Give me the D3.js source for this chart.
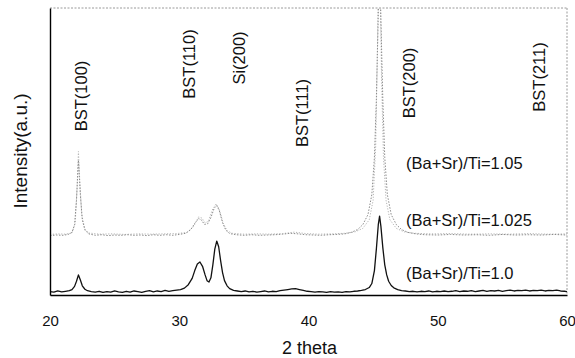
<!DOCTYPE html>
<html>
<head>
<meta charset="utf-8">
<script src="https://cdn.jsdelivr.net/npm/d3@7"></script>
<style>
  body { margin: 0; background: #fff; }
  svg { display: block; }
  text { font-family: "Liberation Sans", Arial, Helvetica, sans-serif; fill: #111; }
</style>
</head>
<body>
<svg id="chart" width="575" height="358"></svg>
<script>
// XRD patterns of BST films, intensity in arbitrary counts vs 2θ (deg)
const xTicks = [20, 30, 40, 50, 60];

// (Ba+Sr)/Ti = 1.0
const ratio100 = [
  [20.0,12],[20.3,10],[20.6,14],[20.9,11],[21.2,13],[21.5,15],[21.7,19],[21.9,30],[22.05,48],[22.2,70],
  [22.35,52],[22.5,32],[22.7,20],[22.9,15],[23.2,12],[23.5,10],[23.8,13],[24.1,9],[24.4,12],[24.7,10],
  [25.0,14],[25.3,11],[25.6,9],[25.9,13],[26.2,10],[26.5,14],[26.8,12],[27.1,9],[27.4,13],[27.7,15],
  [28.0,11],[28.3,14],[28.6,12],[28.9,16],[29.2,13],[29.5,15],[29.8,17],[30.1,19],[30.4,24],[30.7,36],
  [31.0,58],[31.2,85],[31.4,108],[31.6,115],[31.8,100],[32.0,70],[32.15,50],[32.3,45],[32.45,60],[32.6,105],
  [32.75,160],[32.9,188],[33.05,168],[33.2,120],[33.35,78],[33.5,50],[33.7,32],[33.9,22],[34.2,16],[34.5,14],
  [34.8,12],[35.1,14],[35.4,11],[35.7,13],[36.0,10],[36.3,12],[36.6,14],[36.9,11],[37.2,13],[37.5,12],
  [37.8,15],[38.1,17],[38.4,19],[38.7,21],[39.0,22],[39.3,19],[39.6,16],[39.9,13],[40.2,12],[40.5,10],
  [40.8,12],[41.1,11],[41.4,9],[41.7,12],[42.0,10],[42.3,11],[42.6,9],[42.9,12],[43.2,11],[43.5,13],
  [43.8,14],[44.1,16],[44.4,19],[44.7,26],[44.9,40],[45.1,85],[45.25,160],[45.4,245],[45.5,275],[45.6,240],
  [45.75,165],[45.9,105],[46.05,70],[46.2,48],[46.4,33],[46.6,25],[46.9,19],[47.2,15],[47.5,14],[47.8,12],
  [48.1,13],[48.4,11],[48.7,13],[49.0,12],[49.3,14],[49.6,11],[49.9,13],[50.2,12],[50.5,14],[50.8,12],
  [51.1,13],[51.4,15],[51.7,12],[52.0,14],[52.3,13],[52.6,15],[52.9,12],[53.2,14],[53.5,16],[53.8,13],
  [54.1,15],[54.4,14],[54.7,16],[55.0,13],[55.3,15],[55.6,17],[55.9,14],[56.2,16],[56.5,15],[56.8,17],
  [57.1,14],[57.4,16],[57.7,15],[58.0,17],[58.3,14],[58.6,16],[58.9,15],[59.2,17],[59.5,14],[59.8,13],[60.0,12]
];

// (Ba+Sr)/Ti = 1.025
const ratio1025 = [
  [20.0,207],[20.5,209],[21.0,208],[21.4,211],[21.7,218],[21.9,245],[22.05,330],[22.2,470],[22.35,350],[22.5,262],
  [22.7,226],[23.0,213],[23.5,208],[24.0,210],[24.5,207],[25.0,209],[25.5,208],[26.0,210],[26.5,208],[27.0,209],
  [27.5,207],[28.0,210],[28.5,208],[29.0,210],[29.5,208],[30.0,211],[30.5,215],[30.9,228],[31.2,250],[31.5,266],
  [31.7,262],[31.95,246],[32.2,248],[32.45,270],[32.7,302],[32.9,312],[33.1,294],[33.35,252],[33.6,226],[33.9,214],
  [34.4,210],[35.0,208],[35.6,210],[36.2,208],[36.8,209],[37.4,210],[38.0,212],[38.6,215],[39.2,213],[39.8,210],
  [40.4,209],[41.0,208],[41.6,210],[42.2,211],[42.8,213],[43.3,218],[43.8,228],[44.2,245],[44.6,280],[44.9,350],
  [45.1,480],[45.25,680],[45.4,980],[45.5,1150],[45.6,960],[45.75,680],[45.9,480],[46.1,350],[46.4,280],[46.8,245],
  [47.2,228],[47.7,218],[48.3,213],[49.0,210],[50.0,209],[51.0,211],[52.0,209],[53.0,210],[54.0,208],[55.0,211],
  [56.0,209],[57.0,210],[58.0,209],[59.0,211],[60.0,209]
];

// (Ba+Sr)/Ti = 1.05
const ratio105 = [
  [20.0,211],[20.6,213],[21.2,212],[21.7,216],[21.95,250],[22.1,380],[22.2,500],[22.3,400],[22.45,280],[22.7,230],
  [23.0,216],[23.8,212],[24.8,213],[25.8,211],[26.8,213],[27.8,212],[28.8,213],[29.8,214],[30.6,218],[31.1,238],
  [31.5,272],[31.75,268],[32.0,252],[32.25,256],[32.55,296],[32.85,318],[33.1,298],[33.4,250],[33.7,224],[34.1,215],
  [35.0,212],[36.0,213],[37.0,212],[38.0,214],[38.9,219],[39.8,214],[40.8,212],[41.8,213],[42.8,215],[43.6,220],
  [44.2,232],[44.7,262],[45.0,330],[45.2,520],[45.35,900],[45.45,1300],[45.55,1100],[45.65,760],[45.8,480],[46.0,330],
  [46.3,262],[46.8,232],[47.4,220],[48.2,215],[49.5,213],[51.0,214],[52.5,212],[54.0,213],[55.5,212],[57.0,214],
  [58.5,212],[60.0,213]
];

const seriesNames = ["(Ba+Sr)/Ti=1.05", "(Ba+Sr)/Ti=1.025", "(Ba+Sr)/Ti=1.0"];

// reflection labels and the 2θ at which each is written
const peakLabels = ["BST(100)", "BST(110)", "Si(200)", "BST(111)", "BST(200)", "BST(211)"];
const peakLabelAt = [22.86, 31.22, 35.09, 39.96, 48.24, 58.30];

const svg = d3.select("#chart");
const m = { left: 50, right: 8, top: 8, bottom: 63 };
const W = 575, H = 358;

const x = d3.scaleLinear().domain([20, 60]).range([m.left, W - m.right]);
const y = d3.scaleLinear().domain([0, 1000]).range([H - m.bottom, m.top]);

svg.append("defs").append("clipPath").attr("id", "plotClip")
  .append("rect")
  .attr("x", x(20)).attr("y", y(1000))
  .attr("width", x(60) - x(20)).attr("height", y(0) - y(1000));

// light frame on the top and right
svg.append("line")
  .attr("x1", x(20)).attr("x2", x(60)).attr("y1", y(1000)).attr("y2", y(1000))
  .attr("stroke", "#9a9a9a").attr("stroke-width", 1).attr("stroke-dasharray", "2,1.5");
svg.append("line")
  .attr("x1", x(60)).attr("x2", x(60)).attr("y1", y(1000)).attr("y2", y(0))
  .attr("stroke", "#9a9a9a").attr("stroke-width", 1).attr("stroke-dasharray", "2,1.5");

const line = d3.line().x(d => x(d[0])).y(d => y(d[1]));
const plot = svg.append("g").attr("clip-path", "url(#plotClip)");

plot.append("path").datum(ratio105)
  .attr("fill", "none").attr("stroke", "#b5b5b5").attr("stroke-width", 1)
  .attr("stroke-dasharray", "1.2,1.6").attr("d", line);
plot.append("path").datum(ratio1025)
  .attr("fill", "none").attr("stroke", "#8c8c8c").attr("stroke-width", 1)
  .attr("stroke-dasharray", "1.5,1.5").attr("d", line);
plot.append("path").datum(ratio100)
  .attr("fill", "none").attr("stroke", "#111").attr("stroke-width", 1.3)
  .attr("stroke-linejoin", "round").attr("d", line);

// axes
const xAxis = svg.append("g").attr("transform", `translate(0,${y(0)})`)
  .call(d3.axisBottom(x).tickValues(xTicks).tickSize(0).tickSizeOuter(0).tickPadding(20));
xAxis.select(".domain").attr("stroke", "#000").attr("stroke-width", 1.4);
xAxis.selectAll(".tick text").style("font-size", "15px").attr("fill", "#111")
  .style("font-family", '"Liberation Sans", Arial, sans-serif');

const yAxis = svg.append("g").attr("transform", `translate(${x(20)},0)`)
  .call(d3.axisLeft(y).tickValues([]).tickSizeOuter(0));
yAxis.select(".domain").attr("stroke", "#000").attr("stroke-width", 1.4);

svg.append("text")
  .attr("x", (x(20) + x(60)) / 2 + 1).attr("y", 354)
  .attr("text-anchor", "middle").style("font-size", "18px")
  .text("2 theta");

svg.append("text")
  .attr("transform", "translate(27,151) rotate(-90)")
  .attr("text-anchor", "middle").style("font-size", "19px")
  .text("Intensity(a.u.)");

// reflection labels, written vertically
const labelMid = [96, 64, 58, 113, 83, 77];
peakLabels.forEach((t, i) => {
  svg.append("text")
    .attr("transform", `translate(${x(peakLabelAt[i])},${labelMid[i]}) rotate(-90)`)
    .attr("text-anchor", "middle").style("font-size", "16.5px")
    .text(t);
});

// series names beside each trace
const nameBaseline = [169, 226, 279];
seriesNames.forEach((t, i) => {
  svg.append("text")
    .attr("x", x(47.54)).attr("y", nameBaseline[i])
    .style("font-size", "16.5px")
    .text(t);
});
</script>
</body>
</html>
